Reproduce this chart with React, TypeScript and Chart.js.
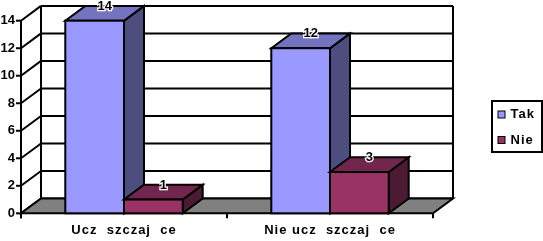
import React, { useEffect, useRef } from "react";
import { Chart, registerables } from "chart.js";

Chart.register(...registerables);

const categories = ["Ucz  szczaj  ce", "Nie ucz  szczaj  ce"];
const seriesNames = ["Tak", "Nie"];
const takValues = [14, 12];
const nieValues = [1, 3];
const yTicks = [0, 2, 4, 6, 8, 10, 12, 14];

const FONT = '"Liberation Sans", Arial, sans-serif';
const DX = 20;
const DY = -14.8;

const colors = [
  { front: "#9999FF", top: "#7373C0", side: "#4D4D80" },
  { front: "#993366", top: "#73264D", side: "#4D1A33" },
];

const threeD = {
  id: "threeD",
  beforeDatasetsDraw(chart: any) {
    const ctx = chart.ctx;
    const y = chart.scales.y;
    const a = chart.chartArea;
    const L = a.left, R = a.right, B = y.getPixelForValue(0), T = y.getPixelForValue(14);
    ctx.save();
    ctx.clearRect(L - 1, 0, R + DX + 3 - L, B + 2);
    ctx.fillStyle = "#fff";
    ctx.fillRect(L + DX, T + DY, R - L, B - T);
    ctx.lineWidth = 2;
    ctx.strokeStyle = "#000";
    ctx.lineCap = "butt";
    // back wall gridlines
    for (const v of yTicks) {
      const py = y.getPixelForValue(v) + DY;
      ctx.beginPath();
      ctx.moveTo(L + DX, py);
      ctx.lineTo(R + DX, py);
      ctx.stroke();
      // left wall diagonal
      ctx.beginPath();
      ctx.moveTo(L, y.getPixelForValue(v));
      ctx.lineTo(L + DX, py);
      ctx.stroke();
      // tick stub
      ctx.beginPath();
      ctx.moveTo(L - 5, y.getPixelForValue(v));
      ctx.lineTo(L, y.getPixelForValue(v));
      ctx.stroke();
    }
    // back wall verticals
    ctx.beginPath();
    ctx.moveTo(L + DX, T + DY);
    ctx.lineTo(L + DX, B + DY);
    ctx.moveTo(R + DX, T + DY);
    ctx.lineTo(R + DX, B + DY);
    ctx.stroke();
    // floor
    ctx.beginPath();
    ctx.moveTo(L, B);
    ctx.lineTo(R, B);
    ctx.lineTo(R + DX, B + DY);
    ctx.lineTo(L + DX, B + DY);
    ctx.closePath();
    ctx.fillStyle = "#808080";
    ctx.fill();
    ctx.stroke();
    // left axis
    ctx.beginPath();
    ctx.moveTo(L, T);
    ctx.lineTo(L, B + 5);
    ctx.stroke();
    ctx.restore();
  },
  afterDatasetsDraw(chart: any) {
    const ctx = chart.ctx;
    const y = chart.scales.y;
    const x = chart.scales.x;
    const a = chart.chartArea;
    const L = a.left, R = a.right, B = y.getPixelForValue(0);
    ctx.save();
    ctx.lineWidth = 2;
    ctx.strokeStyle = "#000";
    ctx.lineJoin = "miter";
    const n = chart.data.labels.length;
    for (let i = 0; i < n; i++) {
      chart.data.datasets.forEach((ds: any, di: number) => {
        const el = chart.getDatasetMeta(di).data[i];
        const c = colors[di];
        const w = el.width;
        const l = el.x - w / 2, r = el.x + w / 2, t = el.y;
        // side
        ctx.beginPath();
        ctx.moveTo(r, t);
        ctx.lineTo(r + DX, t + DY);
        ctx.lineTo(r + DX, B + DY);
        ctx.lineTo(r, B);
        ctx.closePath();
        ctx.fillStyle = c.side;
        ctx.fill();
        ctx.stroke();
        // top
        ctx.beginPath();
        ctx.moveTo(l, t);
        ctx.lineTo(r, t);
        ctx.lineTo(r + DX, t + DY);
        ctx.lineTo(l + DX, t + DY);
        ctx.closePath();
        ctx.fillStyle = c.top;
        ctx.fill();
        ctx.stroke();
        // front
        ctx.fillStyle = c.front;
        ctx.fillRect(l, t, w, B - t);
        ctx.strokeRect(l, t, w, B - t);
      });
    }
    // labels
    ctx.font = "bold 13px " + FONT;
    ctx.textAlign = "center";
    ctx.textBaseline = "middle";
    for (let i = 0; i < n; i++) {
      chart.data.datasets.forEach((ds: any, di: number) => {
        const el = chart.getDatasetMeta(di).data[i];
        const tx = el.x + DX / 2;
        const ty = el.y + DY / 2 - 7;
        ctx.lineWidth = 2.5;
        ctx.strokeStyle = "#fff";
        ctx.strokeText(String(ds.data[i]), tx, ty);
        ctx.fillStyle = "#000";
        ctx.fillText(String(ds.data[i]), tx, ty);
      });
    }
    // x axis ticks
    ctx.lineWidth = 2;
    ctx.strokeStyle = "#000";
    const cw = (R - L) / n;
    ctx.beginPath();
    for (let i = 0; i <= n; i++) {
      const px = L + cw * i;
      ctx.moveTo(px, B);
      ctx.lineTo(px, B + 5);
    }
    ctx.stroke();
    // category labels
    ctx.fillStyle = "#000";
    ctx.textBaseline = "middle";
    (ctx as any).letterSpacing = "1px";
    chart.data.labels.forEach((lab: string, i: number) => {
      ctx.fillText(lab, x.getPixelForValue(i), 230);
    });
    (ctx as any).letterSpacing = "0px";
    // legend
    const lx = 492, ly = 101, lw = 50, lh = 51;
    ctx.lineWidth = 2;
    ctx.fillStyle = "#fff";
    ctx.fillRect(lx, ly, lw, lh);
    ctx.strokeRect(lx, ly, lw, lh);
    ctx.textAlign = "left";
    chart.data.datasets.forEach((ds: any, di: number) => {
      const cy = 114.5 + di * 25.5;
      ctx.fillStyle = colors[di].front;
      ctx.fillRect(498, cy - 3.5, 7, 7);
      ctx.lineWidth = 1;
      ctx.strokeRect(498, cy - 3.5, 7, 7);
      ctx.fillStyle = "#000";
      (ctx as any).letterSpacing = "1px";
      ctx.fillText(ds.label, 510.5, cy);
      (ctx as any).letterSpacing = "0px";
    });
    ctx.restore();
  },
};

export default function App() {
  const ref = useRef<HTMLCanvasElement>(null);
  useEffect(() => {
    document.body.style.margin = "0";
    const chart = new Chart(ref.current!, {
      type: "bar",
      data: {
        labels: categories,
        datasets: [
          { label: seriesNames[0], data: takValues, backgroundColor: colors[0].front },
          { label: seriesNames[1], data: nieValues, backgroundColor: colors[1].front },
        ],
      },
      options: {
        responsive: false,
        animation: false,
        events: [],
        layout: { padding: { left: 0, right: 110, top: 20.7, bottom: 0 } },
        datasets: { bar: { categoryPercentage: 0.57, barPercentage: 1 } } as any,
        plugins: { legend: { display: false }, tooltip: { enabled: false } },
        scales: {
          x: {
            ticks: { display: false },
            grid: { display: false, drawTicks: false },
            border: { display: false },
            afterFit: (s: any) => { s.height = 27.7; },
          },
          y: {
            min: 0,
            max: 14,
            ticks: {
              stepSize: 2,
              padding: 6,
              color: "#000",
              font: { family: FONT, size: 13, weight: "bold" },
            },
            grid: { display: false, drawTicks: false },
            border: { display: false },
            afterFit: (s: any) => { s.width = 21; },
          },
        },
      },
      plugins: [threeD],
    });
    return () => chart.destroy();
  }, []);
  return <canvas ref={ref} width={543} height={241} style={{ display: "block" }} />;
}
